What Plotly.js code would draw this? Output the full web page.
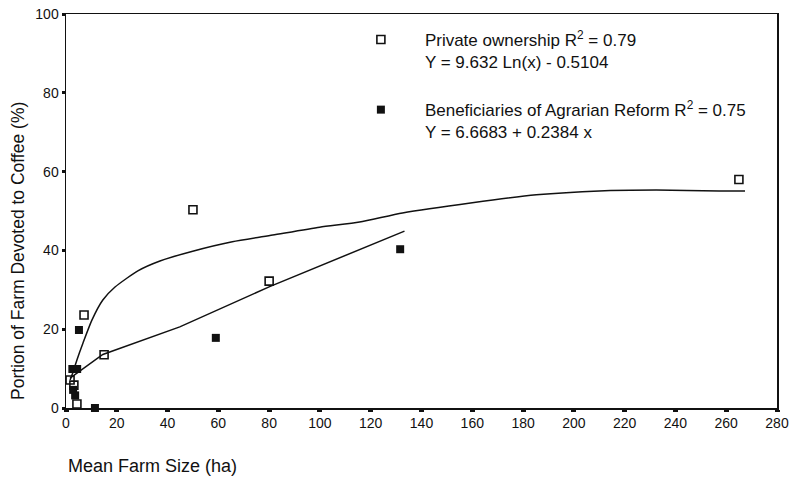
<!DOCTYPE html>
<html>
<head>
<meta charset="utf-8">
<script src="https://cdn.plot.ly/plotly-3.0.1.min.js"></script>
<style>html,body{margin:0;padding:0;background:#fff;}#chart{width:794px;height:478px;}</style>
</head>
<body>
<div id="chart"></div>
<script>
// Private ownership (open squares)
const privX = [265, 50, 80, 15, 7.1, 1.6, 3.1, 4.3];
const privY = [58, 50.3, 32.2, 13.5, 23.6, 7.1, 5.8, 1.0];
// Beneficiaries of Agrarian Reform (filled squares)
const benX = [131.6, 59, 5.1, 2.5, 4.4, 2.8, 3.6, 11.4];
const benY = [40.3, 17.8, 19.8, 9.9, 9.9, 4.6, 3.2, 0];
// Fitted curve (log) as drawn
const logFitX = [1.6, 2.75, 4.3, 6.7, 10.2, 14.5, 19.3, 28.3, 37.0, 49.9, 65.5, 81.4, 99.9, 115.6, 132.5, 160, 185.2, 210, 232.4, 257.2, 267.4];
const logFitY = [7.1, 9.1, 12.2, 16.5, 22.3, 27.4, 30.7, 34.8, 37.3, 39.8, 42.2, 43.9, 45.9, 47.2, 49.5, 52.1, 54.1, 55.1, 55.3, 55.1, 55.1];
// Fitted line (linear) as drawn
const linFitX = [1.6, 14.5, 44.8, 80.2, 133.3];
const linFitY = [7.6, 13.6, 20.6, 30.8, 44.9];
const xTicks = [0,20,40,60,80,100,120,140,160,180,200,220,240,260,280];
const yTicks = [0,20,40,60,80,100];

const font = {family: 'Liberation Sans, Arial, sans-serif', color: '#111'};

const traces = [
  {x: logFitX, y: logFitY, mode: 'lines', line: {color: '#111', width: 1.5, shape: 'spline', smoothing: 0.6}, showlegend: false, hoverinfo: 'skip'},
  {x: linFitX, y: linFitY, mode: 'lines', line: {color: '#111', width: 1.5}, showlegend: false, hoverinfo: 'skip'},
  {x: privX, y: privY, mode: 'markers', name: 'Private ownership R<sup>2</sup> = 0.79<br>Y = 9.632 Ln(x) - 0.5104',
   legendgroup: 'a',
   marker: {symbol: 'square-open', size: 8, color: '#111', line: {width: 1.6, color: '#111'}}, cliponaxis: false},
  {x: benX, y: benY, mode: 'markers', name: 'Beneficiaries of Agrarian Reform R<sup>2</sup> = 0.75<br>Y = 6.6683 + 0.2384 x',
   legendgroup: 'b',
   marker: {symbol: 'square', size: 8, color: '#111'}, cliponaxis: false}
];

const layout = {
  width: 794, height: 478,
  margin: {l: 66, r: 17, t: 14, b: 70},
  paper_bgcolor: '#fff', plot_bgcolor: '#fff',
  font: Object.assign({size: 14}, font),
  showlegend: true,
  legend: {x: 0.381, y: 0.98, xanchor: 'left', yanchor: 'top', bgcolor: 'rgba(0,0,0,0)',
    itemwidth: 78, valign: 'top', tracegroupgap: 23, font: Object.assign({size: 17}, font)},
  xaxis: {range: [0, 280], tickvals: xTicks, ticktext: xTicks.map(String), showgrid: false, zeroline: false,
    showline: true, linecolor: '#111', linewidth: 1.5, mirror: true,
    ticks: 'outside', ticklen: 2, tickwidth: 5, tickcolor: '#111',
    tickfont: Object.assign({size: 14}, font)},
  yaxis: {range: [0, 100], tickvals: yTicks, ticktext: yTicks.map(String), showgrid: false, zeroline: false,
    showline: true, linecolor: '#111', linewidth: 1.5, mirror: true,
    ticks: 'outside', ticklen: 3, tickwidth: 3, tickcolor: '#111',
    tickfont: Object.assign({size: 14}, font)},
  annotations: [
    {text: 'Mean Farm Size (ha)', xref: 'paper', yref: 'paper', x: 0, xshift: 0, y: 0, yshift: -58,
     xanchor: 'left', yanchor: 'middle', showarrow: false, font: Object.assign({size: 18}, font)},
    {text: 'Portion of Farm Devoted to Coffee (%)', xref: 'paper', yref: 'paper', x: 0, xshift: -48,
     y: (408 - 251) / 394, xanchor: 'center', yanchor: 'middle', textangle: -90, showarrow: false,
     font: Object.assign({size: 17.5}, font)}
  ]
};

Plotly.newPlot('chart', traces, layout, {displayModeBar: false, staticPlot: true});
</script>
</body>
</html>
